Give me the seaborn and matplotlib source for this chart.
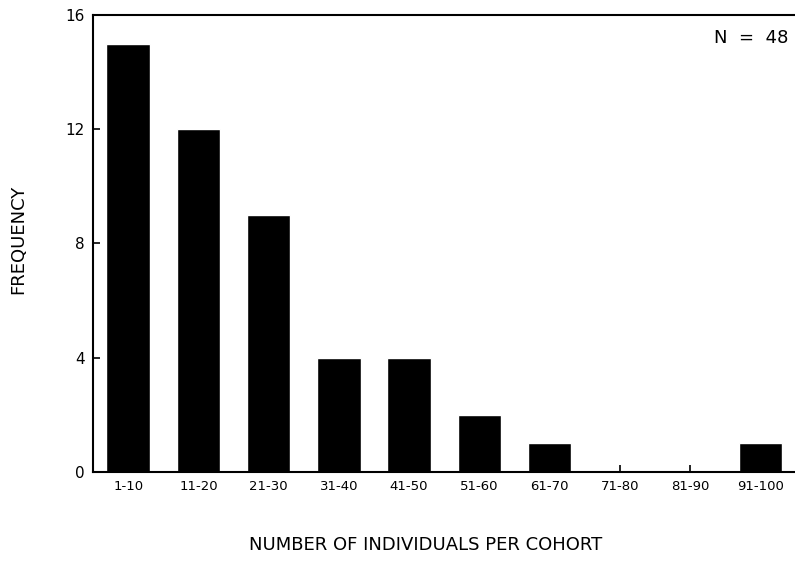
import matplotlib
matplotlib.use("Agg")
import matplotlib.pyplot as plt
import seaborn as sns
import pandas as pd

# cohort size classes and how many cohorts fall in each
size_classes = ['1-10', '11-20', '21-30', '31-40', '41-50',
                '51-60', '61-70', '71-80', '81-90', '91-100']
frequency = [15, 12, 9, 4, 4, 2, 1, 0, 0, 1]
y_ticks = [0, 4, 8, 12, 16]
n_total = 48

df = pd.DataFrame({'size_class': size_classes, 'frequency': frequency})

sns.set_style('white')
plt.rcParams['font.family'] = ['DejaVu Sans']
plt.rcParams['text.color'] = 'black'

fig = plt.figure(figsize=(7.95, 5.77), dpi=100)
ax = fig.add_axes([0.117, 0.182, 0.888, 0.792])

sns.barplot(data=df, x='size_class', y='frequency', color='black',
            width=0.62, saturation=1, ax=ax)

ax.set_xlim(-0.5, 9.55)
ax.set_ylim(0, 16)
ax.set_yticks(y_ticks)
ax.set_yticklabels([str(t) for t in y_ticks], fontsize=11)
ax.set_xticks(range(len(size_classes)))
ax.set_xticklabels(size_classes, fontsize=9.5)
ax.tick_params(axis='both', direction='in', length=5, width=1.2,
               colors='black', pad=6, bottom=True, left=True)

for side in ['left', 'bottom', 'top']:
    ax.spines[side].set_visible(True)
    ax.spines[side].set_color('black')
    ax.spines[side].set_linewidth(1.5)
ax.spines['right'].set_visible(False)

ax.set_xlabel('')
ax.set_ylabel('')
fig.text(0.023, 0.585, 'FREQUENCY', rotation=90, ha='center', va='center',
         fontsize=13)
fig.text(0.535, 0.055, 'NUMBER OF INDIVIDUALS PER COHORT', ha='center',
         va='center', fontsize=13)
ax.text(0.985, 0.95, f'N  =  {n_total}', transform=ax.transAxes,
        ha='right', va='center', fontsize=13)

fig.savefig('out.png', dpi=100)
